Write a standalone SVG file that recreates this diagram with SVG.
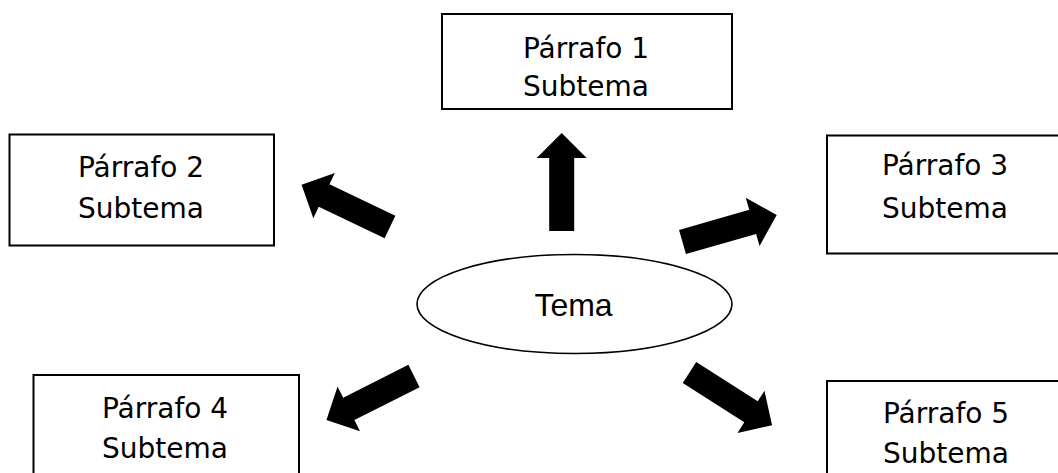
<svg xmlns="http://www.w3.org/2000/svg" width="1058" height="473" viewBox="0 0 1058 473">
<style>
.box{fill:#fff;stroke:#000;stroke-width:2}
.lbl{font-family:"DejaVu Sans","Liberation Sans",sans-serif;font-size:28px;fill:#000;text-anchor:middle}
.tema{font-family:"Liberation Sans",Arial,sans-serif;font-size:32px;fill:#000;text-anchor:middle}
.arr{fill:#000}
</style>
<defs>
<polygon id="arrow" points="0,-12.5 73,-12.5 73,-25 98,0 73,25 73,12.5 0,12.5"/>
</defs>
<rect width="1058" height="473" fill="#fff"/>
<g id="p1">
<rect class="box" x="442" y="14" width="290" height="95"/>
<text class="lbl" x="586" y="58">Párrafo 1</text>
<text class="lbl" x="586" y="96">Subtema</text>
</g>
<g id="p2">
<rect class="box" x="9.5" y="134.5" width="264.5" height="111"/>
<text class="lbl" x="141" y="177">Párrafo 2</text>
<text class="lbl" x="141" y="218">Subtema</text>
</g>
<g id="p3">
<rect class="box" x="827" y="135.5" width="240" height="118"/>
<text class="lbl" x="945" y="175">Párrafo 3</text>
<text class="lbl" x="945" y="218">Subtema</text>
</g>
<g id="p4">
<rect class="box" x="33.5" y="375" width="265.5" height="110"/>
<text class="lbl" x="165" y="418">Párrafo 4</text>
<text class="lbl" x="165" y="458">Subtema</text>
</g>
<g id="p5">
<rect class="box" x="827" y="381" width="240" height="110"/>
<text class="lbl" x="946" y="423">Párrafo 5</text>
<text class="lbl" x="946" y="463">Subtema</text>
</g>
<g id="tema">
<ellipse cx="574.5" cy="304" rx="157.5" ry="49.5" fill="#fff" stroke="#000" stroke-width="1.6"/>
<text class="tema" x="573.5" y="316">Tema</text>
</g>
<g id="connectors" class="arr">
<use href="#arrow" transform="translate(561.7,231) rotate(-90)"/>
<use href="#arrow" transform="translate(390,227) rotate(205.5)"/>
<use href="#arrow" transform="translate(682.5,242) rotate(-16)"/>
<use href="#arrow" transform="translate(414,376) rotate(153.3)"/>
<use href="#arrow" transform="translate(689.5,372.5) rotate(32.6)"/>
</g>
</svg>
